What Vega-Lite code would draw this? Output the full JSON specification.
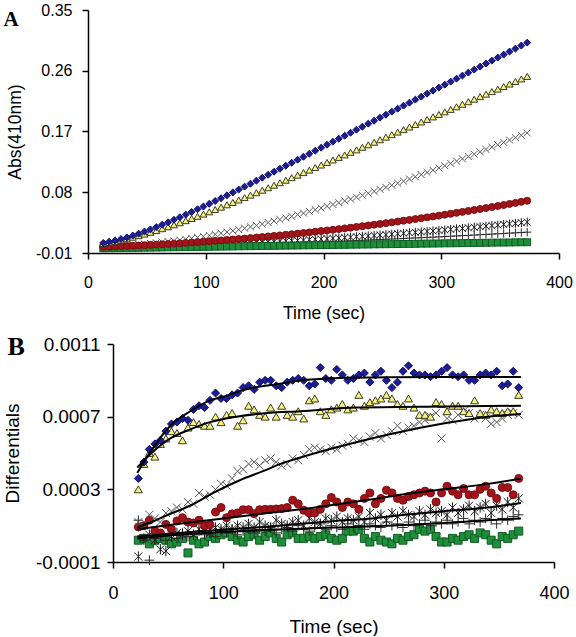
{
"$schema":"https://vega.github.io/schema/vega-lite/v6.json",
"padding":{"left":3,"top":2,"right":0,"bottom":0},
"background":"white",
"config":{
 "view":{"stroke":null},
 "font":"Liberation Sans",
 "axis":{"domainColor":"black","domainWidth":1.5,"tickColor":"black","tickWidth":1.5,"tickSize":6,"labelColor":"black","titleColor":"black","titleFontWeight":"normal","grid":false,"labelFont":"Liberation Sans","titleFont":"Liberation Sans","labelFlush":false,"labelOverlap":false},
 "title":{"font":"Liberation Serif","fontWeight":"bold","anchor":"start","frame":"bounds","offset":0,"baseline":"alphabetic","color":"black"}
},
"datasets":{
"a":[
{"t":13,"s":"x","v":-0.0005},{"t":18,"s":"x","v":-0.0001},{"t":23,"s":"x","v":0.0003},{"t":28,"s":"x","v":0.0008},{"t":33,"s":"x","v":0.0014},{"t":38,"s":"x","v":0.002},{"t":43,"s":"x","v":0.0027},{"t":48,"s":"x","v":0.0034},{"t":53,"s":"x","v":0.0042},{"t":58,"s":"x","v":0.0051},{"t":63,"s":"x","v":0.006},{"t":68,"s":"x","v":0.007},{"t":73,"s":"x","v":0.0081},{"t":78,"s":"x","v":0.0092},{"t":83,"s":"x","v":0.0104},{"t":88,"s":"x","v":0.0117},{"t":93,"s":"x","v":0.0131},{"t":98,"s":"x","v":0.0145},{"t":103,"s":"x","v":0.016},{"t":108,"s":"x","v":0.0176},{"t":113,"s":"x","v":0.0193},{"t":118,"s":"x","v":0.021},{"t":123,"s":"x","v":0.0228},{"t":128,"s":"x","v":0.0247},{"t":133,"s":"x","v":0.0267},{"t":138,"s":"x","v":0.0287},{"t":143,"s":"x","v":0.0308},{"t":148,"s":"x","v":0.0329},{"t":153,"s":"x","v":0.0351},{"t":158,"s":"x","v":0.0373},{"t":163,"s":"x","v":0.0396},{"t":168,"s":"x","v":0.0419},{"t":173,"s":"x","v":0.0443},{"t":178,"s":"x","v":0.0467},{"t":183,"s":"x","v":0.0491},{"t":188,"s":"x","v":0.0516},{"t":193,"s":"x","v":0.0541},{"t":198,"s":"x","v":0.0566},{"t":203,"s":"x","v":0.0592},{"t":208,"s":"x","v":0.0618},{"t":213,"s":"x","v":0.0645},{"t":218,"s":"x","v":0.0672},{"t":223,"s":"x","v":0.0699},{"t":228,"s":"x","v":0.0727},{"t":233,"s":"x","v":0.0755},{"t":238,"s":"x","v":0.0784},{"t":243,"s":"x","v":0.0813},{"t":248,"s":"x","v":0.0843},{"t":253,"s":"x","v":0.0873},{"t":258,"s":"x","v":0.0903},{"t":263,"s":"x","v":0.0934},{"t":268,"s":"x","v":0.0965},{"t":273,"s":"x","v":0.0997},{"t":278,"s":"x","v":0.1029},{"t":283,"s":"x","v":0.1061},{"t":288,"s":"x","v":0.1094},{"t":293,"s":"x","v":0.1127},{"t":298,"s":"x","v":0.116},{"t":303,"s":"x","v":0.1193},{"t":308,"s":"x","v":0.1227},{"t":313,"s":"x","v":0.1261},{"t":318,"s":"x","v":0.1295},{"t":323,"s":"x","v":0.1329},{"t":328,"s":"x","v":0.1364},{"t":333,"s":"x","v":0.1399},{"t":338,"s":"x","v":0.1434},{"t":343,"s":"x","v":0.1469},{"t":348,"s":"x","v":0.1504},{"t":353,"s":"x","v":0.1539},{"t":358,"s":"x","v":0.1574},{"t":363,"s":"x","v":0.1609},{"t":368,"s":"x","v":0.1644},{"t":373,"s":"x","v":0.1679},
{"t":13,"s":"k","v":-0.002},{"t":18,"s":"k","v":-0.0018},{"t":23,"s":"k","v":-0.0017},{"t":28,"s":"k","v":-0.0015},{"t":33,"s":"k","v":-0.0013},{"t":38,"s":"k","v":-0.0011},{"t":43,"s":"k","v":-0.0009},{"t":48,"s":"k","v":-0.0007},{"t":53,"s":"k","v":-0.0005},{"t":58,"s":"k","v":-0.0002},{"t":63,"s":"k","v":0.0},{"t":68,"s":"k","v":0.0003},{"t":73,"s":"k","v":0.0006},{"t":78,"s":"k","v":0.0008},{"t":83,"s":"k","v":0.0011},{"t":88,"s":"k","v":0.0014},{"t":93,"s":"k","v":0.0017},{"t":98,"s":"k","v":0.0021},{"t":103,"s":"k","v":0.0024},{"t":108,"s":"k","v":0.0027},{"t":113,"s":"k","v":0.0031},{"t":118,"s":"k","v":0.0034},{"t":123,"s":"k","v":0.0038},{"t":128,"s":"k","v":0.0042},{"t":133,"s":"k","v":0.0046},{"t":138,"s":"k","v":0.005},{"t":143,"s":"k","v":0.0054},{"t":148,"s":"k","v":0.0058},{"t":153,"s":"k","v":0.0063},{"t":158,"s":"k","v":0.0067},{"t":163,"s":"k","v":0.0072},{"t":168,"s":"k","v":0.0077},{"t":173,"s":"k","v":0.0081},{"t":178,"s":"k","v":0.0086},{"t":183,"s":"k","v":0.0091},{"t":188,"s":"k","v":0.0096},{"t":193,"s":"k","v":0.0102},{"t":198,"s":"k","v":0.0107},{"t":203,"s":"k","v":0.0112},{"t":208,"s":"k","v":0.0118},{"t":213,"s":"k","v":0.0123},{"t":218,"s":"k","v":0.0129},{"t":223,"s":"k","v":0.0135},{"t":228,"s":"k","v":0.0141},{"t":233,"s":"k","v":0.0147},{"t":238,"s":"k","v":0.0153},{"t":243,"s":"k","v":0.0159},{"t":248,"s":"k","v":0.0166},{"t":253,"s":"k","v":0.0172},{"t":258,"s":"k","v":0.0179},{"t":263,"s":"k","v":0.0185},{"t":268,"s":"k","v":0.0192},{"t":273,"s":"k","v":0.0199},{"t":278,"s":"k","v":0.0206},{"t":283,"s":"k","v":0.0213},{"t":288,"s":"k","v":0.022},{"t":293,"s":"k","v":0.0227},{"t":298,"s":"k","v":0.0235},{"t":303,"s":"k","v":0.0242},{"t":308,"s":"k","v":0.025},{"t":313,"s":"k","v":0.0258},{"t":318,"s":"k","v":0.0265},{"t":323,"s":"k","v":0.0273},{"t":328,"s":"k","v":0.0281},{"t":333,"s":"k","v":0.0289},{"t":338,"s":"k","v":0.0298},{"t":343,"s":"k","v":0.0306},{"t":348,"s":"k","v":0.0314},{"t":353,"s":"k","v":0.0323},{"t":358,"s":"k","v":0.0331},{"t":363,"s":"k","v":0.034},{"t":368,"s":"k","v":0.0349},{"t":373,"s":"k","v":0.0358},
{"t":13,"s":"p","v":-0.0025},{"t":18,"s":"p","v":-0.0023},{"t":23,"s":"p","v":-0.0022},{"t":28,"s":"p","v":-0.002},{"t":33,"s":"p","v":-0.0019},{"t":38,"s":"p","v":-0.0017},{"t":43,"s":"p","v":-0.0015},{"t":48,"s":"p","v":-0.0013},{"t":53,"s":"p","v":-0.0011},{"t":58,"s":"p","v":-0.001},{"t":63,"s":"p","v":-0.0008},{"t":68,"s":"p","v":-0.0006},{"t":73,"s":"p","v":-0.0004},{"t":78,"s":"p","v":-0.0001},{"t":83,"s":"p","v":0.0001},{"t":88,"s":"p","v":0.0003},{"t":93,"s":"p","v":0.0005},{"t":98,"s":"p","v":0.0008},{"t":103,"s":"p","v":0.001},{"t":108,"s":"p","v":0.0012},{"t":113,"s":"p","v":0.0015},{"t":118,"s":"p","v":0.0017},{"t":123,"s":"p","v":0.002},{"t":128,"s":"p","v":0.0022},{"t":133,"s":"p","v":0.0025},{"t":138,"s":"p","v":0.0028},{"t":143,"s":"p","v":0.003},{"t":148,"s":"p","v":0.0033},{"t":153,"s":"p","v":0.0036},{"t":158,"s":"p","v":0.0039},{"t":163,"s":"p","v":0.0042},{"t":168,"s":"p","v":0.0045},{"t":173,"s":"p","v":0.0048},{"t":178,"s":"p","v":0.0051},{"t":183,"s":"p","v":0.0054},{"t":188,"s":"p","v":0.0057},{"t":193,"s":"p","v":0.0061},{"t":198,"s":"p","v":0.0064},{"t":203,"s":"p","v":0.0067},{"t":208,"s":"p","v":0.007},{"t":213,"s":"p","v":0.0074},{"t":218,"s":"p","v":0.0077},{"t":223,"s":"p","v":0.0081},{"t":228,"s":"p","v":0.0084},{"t":233,"s":"p","v":0.0088},{"t":238,"s":"p","v":0.0092},{"t":243,"s":"p","v":0.0095},{"t":248,"s":"p","v":0.0099},{"t":253,"s":"p","v":0.0103},{"t":258,"s":"p","v":0.0107},{"t":263,"s":"p","v":0.0111},{"t":268,"s":"p","v":0.0115},{"t":273,"s":"p","v":0.0119},{"t":278,"s":"p","v":0.0123},{"t":283,"s":"p","v":0.0127},{"t":288,"s":"p","v":0.0131},{"t":293,"s":"p","v":0.0135},{"t":298,"s":"p","v":0.0139},{"t":303,"s":"p","v":0.0144},{"t":308,"s":"p","v":0.0148},{"t":313,"s":"p","v":0.0153},{"t":318,"s":"p","v":0.0157},{"t":323,"s":"p","v":0.0161},{"t":328,"s":"p","v":0.0166},{"t":333,"s":"p","v":0.0171},{"t":338,"s":"p","v":0.0175},{"t":343,"s":"p","v":0.018},{"t":348,"s":"p","v":0.0185},{"t":353,"s":"p","v":0.0189},{"t":358,"s":"p","v":0.0194},{"t":363,"s":"p","v":0.0199},{"t":368,"s":"p","v":0.0204},{"t":373,"s":"p","v":0.0209},
{"t":13,"s":"g","v":-0.003},{"t":18,"s":"g","v":-0.0029},{"t":23,"s":"g","v":-0.0028},{"t":28,"s":"g","v":-0.0026},{"t":33,"s":"g","v":-0.0025},{"t":38,"s":"g","v":-0.0024},{"t":43,"s":"g","v":-0.0023},{"t":48,"s":"g","v":-0.0021},{"t":53,"s":"g","v":-0.002},{"t":58,"s":"g","v":-0.0019},{"t":63,"s":"g","v":-0.0018},{"t":68,"s":"g","v":-0.0016},{"t":73,"s":"g","v":-0.0015},{"t":78,"s":"g","v":-0.0014},{"t":83,"s":"g","v":-0.0013},{"t":88,"s":"g","v":-0.0011},{"t":93,"s":"g","v":-0.001},{"t":98,"s":"g","v":-0.0009},{"t":103,"s":"g","v":-0.0008},{"t":108,"s":"g","v":-0.0006},{"t":113,"s":"g","v":-0.0005},{"t":118,"s":"g","v":-0.0004},{"t":123,"s":"g","v":-0.0003},{"t":128,"s":"g","v":-0.0001},{"t":133,"s":"g","v":0.0},{"t":138,"s":"g","v":0.0001},{"t":143,"s":"g","v":0.0003},{"t":148,"s":"g","v":0.0004},{"t":153,"s":"g","v":0.0005},{"t":158,"s":"g","v":0.0006},{"t":163,"s":"g","v":0.0008},{"t":168,"s":"g","v":0.0009},{"t":173,"s":"g","v":0.001},{"t":178,"s":"g","v":0.0011},{"t":183,"s":"g","v":0.0013},{"t":188,"s":"g","v":0.0014},{"t":193,"s":"g","v":0.0015},{"t":198,"s":"g","v":0.0016},{"t":203,"s":"g","v":0.0018},{"t":208,"s":"g","v":0.0019},{"t":213,"s":"g","v":0.002},{"t":218,"s":"g","v":0.0021},{"t":223,"s":"g","v":0.0023},{"t":228,"s":"g","v":0.0024},{"t":233,"s":"g","v":0.0025},{"t":238,"s":"g","v":0.0026},{"t":243,"s":"g","v":0.0028},{"t":248,"s":"g","v":0.0029},{"t":253,"s":"g","v":0.003},{"t":258,"s":"g","v":0.0031},{"t":263,"s":"g","v":0.0033},{"t":268,"s":"g","v":0.0034},{"t":273,"s":"g","v":0.0035},{"t":278,"s":"g","v":0.0036},{"t":283,"s":"g","v":0.0038},{"t":288,"s":"g","v":0.0039},{"t":293,"s":"g","v":0.004},{"t":298,"s":"g","v":0.0041},{"t":303,"s":"g","v":0.0043},{"t":308,"s":"g","v":0.0044},{"t":313,"s":"g","v":0.0045},{"t":318,"s":"g","v":0.0046},{"t":323,"s":"g","v":0.0048},{"t":328,"s":"g","v":0.0049},{"t":333,"s":"g","v":0.005},{"t":338,"s":"g","v":0.0051},{"t":343,"s":"g","v":0.0053},{"t":348,"s":"g","v":0.0054},{"t":353,"s":"g","v":0.0055},{"t":358,"s":"g","v":0.0056},{"t":363,"s":"g","v":0.0058},{"t":368,"s":"g","v":0.0059},{"t":373,"s":"g","v":0.006},
{"t":13,"s":"r","v":-0.001},{"t":18,"s":"r","v":-0.0007},{"t":23,"s":"r","v":-0.0004},{"t":28,"s":"r","v":0.0},{"t":33,"s":"r","v":0.0003},{"t":38,"s":"r","v":0.0007},{"t":43,"s":"r","v":0.0011},{"t":48,"s":"r","v":0.0015},{"t":53,"s":"r","v":0.002},{"t":58,"s":"r","v":0.0024},{"t":63,"s":"r","v":0.0029},{"t":68,"s":"r","v":0.0034},{"t":73,"s":"r","v":0.0039},{"t":78,"s":"r","v":0.0044},{"t":83,"s":"r","v":0.005},{"t":88,"s":"r","v":0.0055},{"t":93,"s":"r","v":0.0061},{"t":98,"s":"r","v":0.0067},{"t":103,"s":"r","v":0.0073},{"t":108,"s":"r","v":0.008},{"t":113,"s":"r","v":0.0086},{"t":118,"s":"r","v":0.0093},{"t":123,"s":"r","v":0.01},{"t":128,"s":"r","v":0.0107},{"t":133,"s":"r","v":0.0114},{"t":138,"s":"r","v":0.0121},{"t":143,"s":"r","v":0.0129},{"t":148,"s":"r","v":0.0137},{"t":153,"s":"r","v":0.0145},{"t":158,"s":"r","v":0.0153},{"t":163,"s":"r","v":0.0161},{"t":168,"s":"r","v":0.017},{"t":173,"s":"r","v":0.0178},{"t":178,"s":"r","v":0.0187},{"t":183,"s":"r","v":0.0196},{"t":188,"s":"r","v":0.0206},{"t":193,"s":"r","v":0.0215},{"t":198,"s":"r","v":0.0225},{"t":203,"s":"r","v":0.0234},{"t":208,"s":"r","v":0.0244},{"t":213,"s":"r","v":0.0254},{"t":218,"s":"r","v":0.0265},{"t":223,"s":"r","v":0.0275},{"t":228,"s":"r","v":0.0286},{"t":233,"s":"r","v":0.0297},{"t":238,"s":"r","v":0.0308},{"t":243,"s":"r","v":0.0319},{"t":248,"s":"r","v":0.033},{"t":253,"s":"r","v":0.0342},{"t":258,"s":"r","v":0.0354},{"t":263,"s":"r","v":0.0366},{"t":268,"s":"r","v":0.0378},{"t":273,"s":"r","v":0.039},{"t":278,"s":"r","v":0.0403},{"t":283,"s":"r","v":0.0415},{"t":288,"s":"r","v":0.0428},{"t":293,"s":"r","v":0.0441},{"t":298,"s":"r","v":0.0454},{"t":303,"s":"r","v":0.0468},{"t":308,"s":"r","v":0.0481},{"t":313,"s":"r","v":0.0495},{"t":318,"s":"r","v":0.0509},{"t":323,"s":"r","v":0.0523},{"t":328,"s":"r","v":0.0537},{"t":333,"s":"r","v":0.0552},{"t":338,"s":"r","v":0.0566},{"t":343,"s":"r","v":0.0581},{"t":348,"s":"r","v":0.0596},{"t":353,"s":"r","v":0.0611},{"t":358,"s":"r","v":0.0627},{"t":363,"s":"r","v":0.0642},{"t":368,"s":"r","v":0.0658},{"t":373,"s":"r","v":0.0674},
{"t":13,"s":"y","v":0.004},{"t":18,"s":"y","v":0.0056},{"t":23,"s":"y","v":0.0073},{"t":28,"s":"y","v":0.0092},{"t":33,"s":"y","v":0.0112},{"t":38,"s":"y","v":0.0134},{"t":43,"s":"y","v":0.0156},{"t":48,"s":"y","v":0.018},{"t":53,"s":"y","v":0.0206},{"t":58,"s":"y","v":0.0232},{"t":63,"s":"y","v":0.026},{"t":68,"s":"y","v":0.0288},{"t":73,"s":"y","v":0.0318},{"t":78,"s":"y","v":0.0348},{"t":83,"s":"y","v":0.0379},{"t":88,"s":"y","v":0.0411},{"t":93,"s":"y","v":0.0443},{"t":98,"s":"y","v":0.0476},{"t":103,"s":"y","v":0.051},{"t":108,"s":"y","v":0.0544},{"t":113,"s":"y","v":0.0579},{"t":118,"s":"y","v":0.0614},{"t":123,"s":"y","v":0.0649},{"t":128,"s":"y","v":0.0685},{"t":133,"s":"y","v":0.0721},{"t":138,"s":"y","v":0.0757},{"t":143,"s":"y","v":0.0793},{"t":148,"s":"y","v":0.083},{"t":153,"s":"y","v":0.0867},{"t":158,"s":"y","v":0.0904},{"t":163,"s":"y","v":0.0941},{"t":168,"s":"y","v":0.0978},{"t":173,"s":"y","v":0.1016},{"t":178,"s":"y","v":0.1053},{"t":183,"s":"y","v":0.1091},{"t":188,"s":"y","v":0.1128},{"t":193,"s":"y","v":0.1166},{"t":198,"s":"y","v":0.1203},{"t":203,"s":"y","v":0.1241},{"t":208,"s":"y","v":0.1278},{"t":213,"s":"y","v":0.1316},{"t":218,"s":"y","v":0.1353},{"t":223,"s":"y","v":0.1391},{"t":228,"s":"y","v":0.1428},{"t":233,"s":"y","v":0.1466},{"t":238,"s":"y","v":0.1503},{"t":243,"s":"y","v":0.1541},{"t":248,"s":"y","v":0.1578},{"t":253,"s":"y","v":0.1616},{"t":258,"s":"y","v":0.1653},{"t":263,"s":"y","v":0.1691},{"t":268,"s":"y","v":0.1728},{"t":273,"s":"y","v":0.1766},{"t":278,"s":"y","v":0.1803},{"t":283,"s":"y","v":0.1841},{"t":288,"s":"y","v":0.1878},{"t":293,"s":"y","v":0.1916},{"t":298,"s":"y","v":0.1953},{"t":303,"s":"y","v":0.1991},{"t":308,"s":"y","v":0.2028},{"t":313,"s":"y","v":0.2066},{"t":318,"s":"y","v":0.2103},{"t":323,"s":"y","v":0.2141},{"t":328,"s":"y","v":0.2178},{"t":333,"s":"y","v":0.2216},{"t":338,"s":"y","v":0.2253},{"t":343,"s":"y","v":0.2291},{"t":348,"s":"y","v":0.2328},{"t":353,"s":"y","v":0.2366},{"t":358,"s":"y","v":0.2403},{"t":363,"s":"y","v":0.2441},{"t":368,"s":"y","v":0.2478},{"t":373,"s":"y","v":0.2516},
{"t":13,"s":"d","v":0.005},{"t":18,"s":"d","v":0.0066},{"t":23,"s":"d","v":0.0085},{"t":28,"s":"d","v":0.0107},{"t":33,"s":"d","v":0.0131},{"t":38,"s":"d","v":0.0158},{"t":43,"s":"d","v":0.0187},{"t":48,"s":"d","v":0.0218},{"t":53,"s":"d","v":0.025},{"t":58,"s":"d","v":0.0284},{"t":63,"s":"d","v":0.0319},{"t":68,"s":"d","v":0.0355},{"t":73,"s":"d","v":0.0392},{"t":78,"s":"d","v":0.043},{"t":83,"s":"d","v":0.0469},{"t":88,"s":"d","v":0.0508},{"t":93,"s":"d","v":0.0548},{"t":98,"s":"d","v":0.0588},{"t":103,"s":"d","v":0.0629},{"t":108,"s":"d","v":0.067},{"t":113,"s":"d","v":0.0712},{"t":118,"s":"d","v":0.0754},{"t":123,"s":"d","v":0.0797},{"t":128,"s":"d","v":0.084},{"t":133,"s":"d","v":0.0883},{"t":138,"s":"d","v":0.0927},{"t":143,"s":"d","v":0.0971},{"t":148,"s":"d","v":0.1015},{"t":153,"s":"d","v":0.1059},{"t":158,"s":"d","v":0.1104},{"t":163,"s":"d","v":0.1148},{"t":168,"s":"d","v":0.1193},{"t":173,"s":"d","v":0.1237},{"t":178,"s":"d","v":0.1282},{"t":183,"s":"d","v":0.1326},{"t":188,"s":"d","v":0.1371},{"t":193,"s":"d","v":0.1415},{"t":198,"s":"d","v":0.146},{"t":203,"s":"d","v":0.1504},{"t":208,"s":"d","v":0.1549},{"t":213,"s":"d","v":0.1593},{"t":218,"s":"d","v":0.1638},{"t":223,"s":"d","v":0.1682},{"t":228,"s":"d","v":0.1727},{"t":233,"s":"d","v":0.1771},{"t":238,"s":"d","v":0.1816},{"t":243,"s":"d","v":0.186},{"t":248,"s":"d","v":0.1905},{"t":253,"s":"d","v":0.1949},{"t":258,"s":"d","v":0.1994},{"t":263,"s":"d","v":0.2038},{"t":268,"s":"d","v":0.2083},{"t":273,"s":"d","v":0.2127},{"t":278,"s":"d","v":0.2172},{"t":283,"s":"d","v":0.2216},{"t":288,"s":"d","v":0.2261},{"t":293,"s":"d","v":0.2305},{"t":298,"s":"d","v":0.235},{"t":303,"s":"d","v":0.2394},{"t":308,"s":"d","v":0.2439},{"t":313,"s":"d","v":0.2483},{"t":318,"s":"d","v":0.2528},{"t":323,"s":"d","v":0.2572},{"t":328,"s":"d","v":0.2617},{"t":333,"s":"d","v":0.2661},{"t":338,"s":"d","v":0.2706},{"t":343,"s":"d","v":0.275},{"t":348,"s":"d","v":0.2795},{"t":353,"s":"d","v":0.2839},{"t":358,"s":"d","v":0.2884},{"t":363,"s":"d","v":0.2928},{"t":368,"s":"d","v":0.2973},{"t":373,"s":"d","v":0.3017}
],
"b":[
{"t":23,"s":"g","v":0.00002},{"t":28,"s":"g","v":0.00003},{"t":33,"s":"g","v":0.0},{"t":38,"s":"g","v":0.00002},{"t":43,"s":"g","v":0.00003},{"t":48,"s":"g","v":0.00002},{"t":53,"s":"g","v":0.0},{"t":58,"s":"g","v":0.00001},{"t":63,"s":"g","v":0.00003},{"t":68,"s":"g","v":-0.00005},{"t":73,"s":"g","v":0.00002},{"t":78,"s":"g","v":0.0},{"t":83,"s":"g","v":0.00001},{"t":88,"s":"g","v":0.00004},{"t":93,"s":"g","v":0.00003},{"t":98,"s":"g","v":0.00005},{"t":103,"s":"g","v":0.00006},{"t":108,"s":"g","v":0.00004},{"t":113,"s":"g","v":0.00002},{"t":118,"s":"g","v":0.00001},{"t":123,"s":"g","v":0.00004},{"t":128,"s":"g","v":0.00005},{"t":133,"s":"g","v":0.00002},{"t":138,"s":"g","v":0.00004},{"t":143,"s":"g","v":0.00006},{"t":148,"s":"g","v":0.00003},{"t":153,"s":"g","v":0.00001},{"t":158,"s":"g","v":0.00005},{"t":163,"s":"g","v":0.00006},{"t":168,"s":"g","v":0.00003},{"t":173,"s":"g","v":0.00003},{"t":178,"s":"g","v":0.00004},{"t":183,"s":"g","v":0.00003},{"t":188,"s":"g","v":0.00004},{"t":193,"s":"g","v":0.00005},{"t":198,"s":"g","v":0.00003},{"t":203,"s":"g","v":0.00002},{"t":208,"s":"g","v":0.00003},{"t":213,"s":"g","v":0.00007},{"t":218,"s":"g","v":0.00007},{"t":223,"s":"g","v":0.00008},{"t":228,"s":"g","v":0.00003},{"t":233,"s":"g","v":0.00001},{"t":238,"s":"g","v":0.00004},{"t":243,"s":"g","v":0.00002},{"t":248,"s":"g","v":0.00001},{"t":253,"s":"g","v":0.0},{"t":258,"s":"g","v":0.00003},{"t":263,"s":"g","v":0.00002},{"t":268,"s":"g","v":0.00004},{"t":273,"s":"g","v":0.00005},{"t":278,"s":"g","v":0.00008},{"t":283,"s":"g","v":0.00007},{"t":288,"s":"g","v":0.00008},{"t":293,"s":"g","v":0.00004},{"t":298,"s":"g","v":0.00001},{"t":303,"s":"g","v":0.00001},{"t":308,"s":"g","v":0.00003},{"t":313,"s":"g","v":0.00002},{"t":318,"s":"g","v":0.00004},{"t":323,"s":"g","v":0.00005},{"t":328,"s":"g","v":0.00003},{"t":333,"s":"g","v":0.00006},{"t":338,"s":"g","v":0.00005},{"t":343,"s":"g","v":0.00002},{"t":348,"s":"g","v":0.0},{"t":353,"s":"g","v":0.00004},{"t":358,"s":"g","v":0.00003},{"t":363,"s":"g","v":0.00005},{"t":368,"s":"g","v":0.00007},
{"t":23,"s":"p","v":0.00013},{"t":28,"s":"p","v":0.00002},{"t":33,"s":"p","v":-0.00009},{"t":38,"s":"p","v":0.00003},{"t":43,"s":"p","v":0.00004},{"t":48,"s":"p","v":0.00002},{"t":53,"s":"p","v":0.00005},{"t":58,"s":"p","v":0.00003},{"t":63,"s":"p","v":0.00006},{"t":68,"s":"p","v":0.00004},{"t":73,"s":"p","v":0.00005},{"t":78,"s":"p","v":0.00007},{"t":83,"s":"p","v":0.00005},{"t":88,"s":"p","v":0.00006},{"t":93,"s":"p","v":0.00004},{"t":98,"s":"p","v":0.00007},{"t":103,"s":"p","v":0.00006},{"t":108,"s":"p","v":0.00008},{"t":113,"s":"p","v":0.00005},{"t":118,"s":"p","v":0.00007},{"t":123,"s":"p","v":0.00008},{"t":128,"s":"p","v":0.00006},{"t":133,"s":"p","v":0.00008},{"t":138,"s":"p","v":0.00007},{"t":143,"s":"p","v":0.00009},{"t":148,"s":"p","v":0.00006},{"t":153,"s":"p","v":0.00008},{"t":158,"s":"p","v":0.00009},{"t":163,"s":"p","v":0.00007},{"t":168,"s":"p","v":0.0001},{"t":173,"s":"p","v":0.00008},{"t":178,"s":"p","v":0.00007},{"t":183,"s":"p","v":0.00009},{"t":188,"s":"p","v":0.00011},{"t":193,"s":"p","v":0.00008},{"t":198,"s":"p","v":0.0001},{"t":203,"s":"p","v":0.00009},{"t":208,"s":"p","v":0.00008},{"t":213,"s":"p","v":0.00011},{"t":218,"s":"p","v":0.00009},{"t":223,"s":"p","v":0.0001},{"t":228,"s":"p","v":0.00008},{"t":233,"s":"p","v":0.00011},{"t":238,"s":"p","v":0.0001},{"t":243,"s":"p","v":0.00009},{"t":248,"s":"p","v":0.00012},{"t":253,"s":"p","v":0.0001},{"t":258,"s":"p","v":0.00011},{"t":263,"s":"p","v":0.00009},{"t":268,"s":"p","v":0.00012},{"t":273,"s":"p","v":0.0001},{"t":278,"s":"p","v":0.00011},{"t":283,"s":"p","v":0.00013},{"t":288,"s":"p","v":0.0001},{"t":293,"s":"p","v":0.00012},{"t":298,"s":"p","v":0.00011},{"t":303,"s":"p","v":0.00013},{"t":308,"s":"p","v":0.00011},{"t":313,"s":"p","v":0.00012},{"t":318,"s":"p","v":0.00014},{"t":323,"s":"p","v":0.00011},{"t":328,"s":"p","v":0.00013},{"t":333,"s":"p","v":0.00012},{"t":338,"s":"p","v":0.00014},{"t":343,"s":"p","v":0.00013},{"t":348,"s":"p","v":0.00011},{"t":353,"s":"p","v":0.00014},{"t":358,"s":"p","v":0.00013},{"t":363,"s":"p","v":0.00015},{"t":368,"s":"p","v":0.00016},
{"t":23,"s":"k","v":-0.00007},{"t":28,"s":"k","v":0.00003},{"t":33,"s":"k","v":0.00005},{"t":38,"s":"k","v":0.00002},{"t":43,"s":"k","v":-0.00003},{"t":48,"s":"k","v":-0.00004},{"t":53,"s":"k","v":0.00004},{"t":58,"s":"k","v":0.00006},{"t":63,"s":"k","v":0.00005},{"t":68,"s":"k","v":0.00007},{"t":73,"s":"k","v":0.00005},{"t":78,"s":"k","v":0.00008},{"t":83,"s":"k","v":0.00007},{"t":88,"s":"k","v":0.00006},{"t":93,"s":"k","v":0.00009},{"t":98,"s":"k","v":0.00008},{"t":103,"s":"k","v":0.0001},{"t":108,"s":"k","v":0.00008},{"t":113,"s":"k","v":0.0001},{"t":118,"s":"k","v":0.00009},{"t":123,"s":"k","v":0.00011},{"t":128,"s":"k","v":0.00009},{"t":133,"s":"k","v":0.00012},{"t":138,"s":"k","v":0.0001},{"t":143,"s":"k","v":0.00009},{"t":148,"s":"k","v":0.00013},{"t":153,"s":"k","v":0.00011},{"t":158,"s":"k","v":0.0001},{"t":163,"s":"k","v":0.00012},{"t":168,"s":"k","v":0.00013},{"t":173,"s":"k","v":0.0001},{"t":178,"s":"k","v":0.00014},{"t":183,"s":"k","v":0.00012},{"t":188,"s":"k","v":0.00011},{"t":193,"s":"k","v":0.00014},{"t":198,"s":"k","v":0.00013},{"t":203,"s":"k","v":0.00015},{"t":208,"s":"k","v":0.00012},{"t":213,"s":"k","v":0.00014},{"t":218,"s":"k","v":0.00013},{"t":223,"s":"k","v":0.00015},{"t":228,"s":"k","v":0.00012},{"t":233,"s":"k","v":0.00017},{"t":238,"s":"k","v":0.00014},{"t":243,"s":"k","v":0.00016},{"t":248,"s":"k","v":0.00013},{"t":253,"s":"k","v":0.00017},{"t":258,"s":"k","v":0.00015},{"t":263,"s":"k","v":0.00018},{"t":268,"s":"k","v":0.00016},{"t":273,"s":"k","v":0.00015},{"t":278,"s":"k","v":0.00018},{"t":283,"s":"k","v":0.00016},{"t":288,"s":"k","v":0.00019},{"t":293,"s":"k","v":0.00017},{"t":298,"s":"k","v":0.00018},{"t":303,"s":"k","v":0.00016},{"t":308,"s":"k","v":0.0002},{"t":313,"s":"k","v":0.00017},{"t":318,"s":"k","v":0.00019},{"t":323,"s":"k","v":0.00021},{"t":328,"s":"k","v":0.00018},{"t":333,"s":"k","v":0.0002},{"t":338,"s":"k","v":0.00022},{"t":343,"s":"k","v":0.00017},{"t":348,"s":"k","v":0.00021},{"t":353,"s":"k","v":0.00019},{"t":358,"s":"k","v":0.00023},{"t":363,"s":"k","v":0.0002},{"t":368,"s":"k","v":0.00025},
{"t":23,"s":"r","v":0.000093},{"t":28,"s":"r","v":0.0001},{"t":33,"s":"r","v":0.00013},{"t":38,"s":"r","v":0.00007},{"t":43,"s":"r","v":0.00006},{"t":48,"s":"r","v":0.000107},{"t":53,"s":"r","v":0.00008},{"t":58,"s":"r","v":0.000126},{"t":63,"s":"r","v":0.000144},{"t":68,"s":"r","v":0.00012},{"t":73,"s":"r","v":0.000115},{"t":78,"s":"r","v":0.00013},{"t":83,"s":"r","v":0.0001},{"t":88,"s":"r","v":0.000105},{"t":93,"s":"r","v":0.000175},{"t":98,"s":"r","v":0.0002},{"t":103,"s":"r","v":0.000144},{"t":108,"s":"r","v":0.000165},{"t":113,"s":"r","v":0.00017},{"t":118,"s":"r","v":0.000188},{"t":123,"s":"r","v":0.000188},{"t":128,"s":"r","v":0.000166},{"t":133,"s":"r","v":0.000188},{"t":138,"s":"r","v":0.00019},{"t":143,"s":"r","v":0.00019},{"t":148,"s":"r","v":0.000192},{"t":153,"s":"r","v":0.000194},{"t":158,"s":"r","v":0.0002},{"t":163,"s":"r","v":0.00024},{"t":168,"s":"r","v":0.00022},{"t":173,"s":"r","v":0.000185},{"t":178,"s":"r","v":0.00017},{"t":183,"s":"r","v":0.00017},{"t":188,"s":"r","v":0.00019},{"t":193,"s":"r","v":0.00022},{"t":198,"s":"r","v":0.000255},{"t":203,"s":"r","v":0.00023},{"t":208,"s":"r","v":0.0002},{"t":213,"s":"r","v":0.00023},{"t":218,"s":"r","v":0.00022},{"t":223,"s":"r","v":0.00019},{"t":228,"s":"r","v":0.00025},{"t":233,"s":"r","v":0.00028},{"t":238,"s":"r","v":0.00022},{"t":243,"s":"r","v":0.00025},{"t":248,"s":"r","v":0.000295},{"t":253,"s":"r","v":0.00028},{"t":258,"s":"r","v":0.00025},{"t":263,"s":"r","v":0.00024},{"t":268,"s":"r","v":0.00026},{"t":273,"s":"r","v":0.00027},{"t":278,"s":"r","v":0.00028},{"t":283,"s":"r","v":0.00029},{"t":288,"s":"r","v":0.00028},{"t":293,"s":"r","v":0.00023},{"t":298,"s":"r","v":0.00028},{"t":303,"s":"r","v":0.000317},{"t":308,"s":"r","v":0.00029},{"t":313,"s":"r","v":0.00027},{"t":318,"s":"r","v":0.000304},{"t":323,"s":"r","v":0.00027},{"t":328,"s":"r","v":0.00027},{"t":333,"s":"r","v":0.0003},{"t":338,"s":"r","v":0.000317},{"t":343,"s":"r","v":0.00028},{"t":348,"s":"r","v":0.00025},{"t":353,"s":"r","v":0.00031},{"t":358,"s":"r","v":0.00031},{"t":363,"s":"r","v":0.00027},{"t":368,"s":"r","v":0.00036},
{"t":23,"s":"x","v":0.00012},{"t":28,"s":"x","v":0.0001},{"t":33,"s":"x","v":0.00016},{"t":38,"s":"x","v":0.00014},{"t":43,"s":"x","v":0.00012},{"t":48,"s":"x","v":0.00017},{"t":53,"s":"x","v":0.00018},{"t":58,"s":"x","v":0.0002},{"t":63,"s":"x","v":0.00019},{"t":68,"s":"x","v":0.00023},{"t":73,"s":"x","v":0.00022},{"t":78,"s":"x","v":0.00028},{"t":83,"s":"x","v":0.00026},{"t":88,"s":"x","v":0.00027},{"t":93,"s":"x","v":0.0003},{"t":98,"s":"x","v":0.00033},{"t":103,"s":"x","v":0.00032},{"t":108,"s":"x","v":0.00036},{"t":113,"s":"x","v":0.0004},{"t":118,"s":"x","v":0.00041},{"t":123,"s":"x","v":0.00044},{"t":128,"s":"x","v":0.00045},{"t":133,"s":"x","v":0.00043},{"t":138,"s":"x","v":0.00046},{"t":143,"s":"x","v":0.00047},{"t":148,"s":"x","v":0.00045},{"t":153,"s":"x","v":0.00043},{"t":158,"s":"x","v":0.00044},{"t":163,"s":"x","v":0.00047},{"t":168,"s":"x","v":0.00046},{"t":173,"s":"x","v":0.00049},{"t":178,"s":"x","v":0.00052},{"t":183,"s":"x","v":0.00053},{"t":188,"s":"x","v":0.00052},{"t":193,"s":"x","v":0.00051},{"t":198,"s":"x","v":0.00053},{"t":203,"s":"x","v":0.00052},{"t":208,"s":"x","v":0.00054},{"t":213,"s":"x","v":0.00055},{"t":218,"s":"x","v":0.00058},{"t":223,"s":"x","v":0.00057},{"t":228,"s":"x","v":0.00056},{"t":233,"s":"x","v":0.00059},{"t":238,"s":"x","v":0.00061},{"t":243,"s":"x","v":0.00058},{"t":248,"s":"x","v":0.0006},{"t":253,"s":"x","v":0.00062},{"t":258,"s":"x","v":0.00065},{"t":263,"s":"x","v":0.00062},{"t":268,"s":"x","v":0.00064},{"t":273,"s":"x","v":0.00065},{"t":278,"s":"x","v":0.00067},{"t":283,"s":"x","v":0.00068},{"t":288,"s":"x","v":0.0007},{"t":293,"s":"x","v":0.00072},{"t":298,"s":"x","v":0.00058},{"t":303,"s":"x","v":0.00069},{"t":308,"s":"x","v":0.00068},{"t":313,"s":"x","v":0.00071},{"t":318,"s":"x","v":0.00073},{"t":323,"s":"x","v":0.00072},{"t":328,"s":"x","v":0.00069},{"t":333,"s":"x","v":0.00071},{"t":338,"s":"x","v":0.00069},{"t":343,"s":"x","v":0.00066},{"t":348,"s":"x","v":0.00067},{"t":353,"s":"x","v":0.00069},{"t":358,"s":"x","v":0.00071},{"t":363,"s":"x","v":0.00072},{"t":368,"s":"x","v":0.00071},
{"t":23,"s":"y","v":0.0003},{"t":28,"s":"y","v":0.00044},{"t":33,"s":"y","v":0.0005},{"t":38,"s":"y","v":0.00048},{"t":43,"s":"y","v":0.00055},{"t":48,"s":"y","v":0.00058},{"t":53,"s":"y","v":0.00062},{"t":58,"s":"y","v":0.00061},{"t":63,"s":"y","v":0.00057},{"t":68,"s":"y","v":0.00064},{"t":73,"s":"y","v":0.00067},{"t":78,"s":"y","v":0.00066},{"t":83,"s":"y","v":0.00065},{"t":88,"s":"y","v":0.00065},{"t":93,"s":"y","v":0.0007},{"t":98,"s":"y","v":0.00067},{"t":103,"s":"y","v":0.00071},{"t":108,"s":"y","v":0.00072},{"t":113,"s":"y","v":0.00065},{"t":118,"s":"y","v":0.00068},{"t":123,"s":"y","v":0.00076},{"t":128,"s":"y","v":0.00074},{"t":133,"s":"y","v":0.00071},{"t":138,"s":"y","v":0.0007},{"t":143,"s":"y","v":0.00075},{"t":148,"s":"y","v":0.0007},{"t":153,"s":"y","v":0.00076},{"t":158,"s":"y","v":0.00071},{"t":163,"s":"y","v":0.0007},{"t":168,"s":"y","v":0.00073},{"t":173,"s":"y","v":0.00069},{"t":178,"s":"y","v":0.00079},{"t":183,"s":"y","v":0.0008},{"t":188,"s":"y","v":0.00073},{"t":193,"s":"y","v":0.00071},{"t":198,"s":"y","v":0.00074},{"t":203,"s":"y","v":0.00075},{"t":208,"s":"y","v":0.00077},{"t":213,"s":"y","v":0.00074},{"t":218,"s":"y","v":0.00075},{"t":223,"s":"y","v":0.00082},{"t":228,"s":"y","v":0.00076},{"t":233,"s":"y","v":0.00078},{"t":238,"s":"y","v":0.00079},{"t":243,"s":"y","v":0.0008},{"t":248,"s":"y","v":0.00082},{"t":253,"s":"y","v":0.0008},{"t":258,"s":"y","v":0.00077},{"t":263,"s":"y","v":0.00076},{"t":268,"s":"y","v":0.0008},{"t":273,"s":"y","v":0.00075},{"t":278,"s":"y","v":0.00071},{"t":283,"s":"y","v":0.00071},{"t":288,"s":"y","v":0.0007},{"t":293,"s":"y","v":0.00078},{"t":298,"s":"y","v":0.00077},{"t":303,"s":"y","v":0.00073},{"t":308,"s":"y","v":0.00076},{"t":313,"s":"y","v":0.00076},{"t":318,"s":"y","v":0.00073},{"t":323,"s":"y","v":0.00072},{"t":328,"s":"y","v":0.00079},{"t":333,"s":"y","v":0.00072},{"t":338,"s":"y","v":0.00071},{"t":343,"s":"y","v":0.00074},{"t":348,"s":"y","v":0.00073},{"t":353,"s":"y","v":0.00072},{"t":358,"s":"y","v":0.00073},{"t":363,"s":"y","v":0.00073},{"t":368,"s":"y","v":0.00082},
{"t":23,"s":"d","v":0.00036},{"t":28,"s":"d","v":0.00045},{"t":33,"s":"d","v":0.00052},{"t":38,"s":"d","v":0.00055},{"t":43,"s":"d","v":0.00057},{"t":48,"s":"d","v":0.00062},{"t":53,"s":"d","v":0.00066},{"t":58,"s":"d","v":0.00067},{"t":63,"s":"d","v":0.00069},{"t":68,"s":"d","v":0.00068},{"t":73,"s":"d","v":0.00074},{"t":78,"s":"d","v":0.00076},{"t":83,"s":"d","v":0.00075},{"t":88,"s":"d","v":0.00079},{"t":93,"s":"d","v":0.00083},{"t":98,"s":"d","v":0.0008},{"t":103,"s":"d","v":0.0008},{"t":108,"s":"d","v":0.00082},{"t":113,"s":"d","v":0.00083},{"t":118,"s":"d","v":0.00086},{"t":123,"s":"d","v":0.00087},{"t":128,"s":"d","v":0.00085},{"t":133,"s":"d","v":0.00089},{"t":138,"s":"d","v":0.0009},{"t":143,"s":"d","v":0.0009},{"t":148,"s":"d","v":0.00087},{"t":153,"s":"d","v":0.00086},{"t":158,"s":"d","v":0.00089},{"t":163,"s":"d","v":0.0009},{"t":168,"s":"d","v":0.00091},{"t":173,"s":"d","v":0.0009},{"t":178,"s":"d","v":0.00087},{"t":183,"s":"d","v":0.00088},{"t":188,"s":"d","v":0.00097},{"t":193,"s":"d","v":0.00091},{"t":198,"s":"d","v":0.0009},{"t":203,"s":"d","v":0.00096},{"t":208,"s":"d","v":0.00093},{"t":213,"s":"d","v":0.0009},{"t":218,"s":"d","v":0.00091},{"t":223,"s":"d","v":0.00093},{"t":228,"s":"d","v":0.00094},{"t":233,"s":"d","v":0.00089},{"t":238,"s":"d","v":0.00093},{"t":243,"s":"d","v":0.00095},{"t":248,"s":"d","v":0.0009},{"t":253,"s":"d","v":0.00086},{"t":258,"s":"d","v":0.00089},{"t":263,"s":"d","v":0.00095},{"t":268,"s":"d","v":0.00098},{"t":273,"s":"d","v":0.00094},{"t":278,"s":"d","v":0.00093},{"t":283,"s":"d","v":0.00093},{"t":288,"s":"d","v":0.00092},{"t":293,"s":"d","v":0.00093},{"t":298,"s":"d","v":0.00095},{"t":303,"s":"d","v":0.00097},{"t":308,"s":"d","v":0.00093},{"t":313,"s":"d","v":0.00092},{"t":318,"s":"d","v":0.00093},{"t":323,"s":"d","v":0.0009},{"t":328,"s":"d","v":0.0009},{"t":333,"s":"d","v":0.00093},{"t":338,"s":"d","v":0.00094},{"t":343,"s":"d","v":0.00093},{"t":348,"s":"d","v":0.00095},{"t":353,"s":"d","v":0.00087},{"t":358,"s":"d","v":0.00088},{"t":363,"s":"d","v":0.00095},{"t":368,"s":"d","v":0.00086}
],
"bf":[
{"t":22,"s":"d","v":0.00039},{"t":30,"s":"d","v":0.00047},{"t":40,"s":"d","v":0.00056},{"t":52,"s":"d","v":0.00065},{"t":70,"s":"d","v":0.00073},{"t":88,"s":"d","v":0.00079},{"t":100,"s":"d","v":0.00081},{"t":120,"s":"d","v":0.00085},{"t":150,"s":"d","v":0.00088},{"t":170,"s":"d","v":0.0009},{"t":200,"s":"d","v":0.000912},{"t":250,"s":"d","v":0.000917},{"t":300,"s":"d","v":0.000918},{"t":370,"s":"d","v":0.000918},
{"t":22,"s":"y","v":0.00042},{"t":35,"s":"y","v":0.0005},{"t":52,"s":"y","v":0.00058},{"t":70,"s":"y","v":0.00063},{"t":88,"s":"y","v":0.00067},{"t":112,"s":"y","v":0.0007},{"t":140,"s":"y","v":0.00072},{"t":170,"s":"y","v":0.00073},{"t":220,"s":"y","v":0.00075},{"t":300,"s":"y","v":0.000756},{"t":370,"s":"y","v":0.00076},
{"t":22,"s":"x","v":0.00009},{"t":35,"s":"x","v":0.00012},{"t":50,"s":"x","v":0.00016},{"t":70,"s":"x","v":0.00021},{"t":91,"s":"x","v":0.00028},{"t":115,"s":"x","v":0.00035},{"t":136,"s":"x","v":0.0004},{"t":152,"s":"x","v":0.00044},{"t":170,"s":"x","v":0.000475},{"t":202,"s":"x","v":0.00053},{"t":252,"s":"x","v":0.000605},{"t":302,"s":"x","v":0.000665},{"t":340,"s":"x","v":0.0007},{"t":370,"s":"x","v":0.000715},
{"t":22,"s":"r","v":0.00008},{"t":60,"s":"r","v":0.00011},{"t":100,"s":"r","v":0.00014},{"t":136,"s":"r","v":0.000166},{"t":170,"s":"r","v":0.00019},{"t":200,"s":"r","v":0.000215},{"t":240,"s":"r","v":0.00025},{"t":270,"s":"r","v":0.000278},{"t":300,"s":"r","v":0.0003},{"t":340,"s":"r","v":0.00033},{"t":370,"s":"r","v":0.000358},
{"t":22,"s":"k","v":0.00004},{"t":60,"s":"k","v":0.00006},{"t":100,"s":"k","v":0.000078},{"t":136,"s":"k","v":0.000093},{"t":170,"s":"k","v":0.00011},{"t":200,"s":"k","v":0.000125},{"t":235,"s":"k","v":0.00014},{"t":265,"s":"k","v":0.00016},{"t":300,"s":"k","v":0.00018},{"t":340,"s":"k","v":0.0002},{"t":370,"s":"k","v":0.000225},
{"t":22,"s":"p","v":0.00003},{"t":60,"s":"p","v":0.00005},{"t":100,"s":"p","v":0.000065},{"t":134,"s":"p","v":0.000075},{"t":200,"s":"p","v":0.00009},{"t":265,"s":"p","v":0.000103},{"t":300,"s":"p","v":0.000115},{"t":340,"s":"p","v":0.00013},{"t":370,"s":"p","v":0.00014}
]
},
"vconcat":[
{
 "width":471,"height":243,
 "title":{"text":"A","fontSize":21,"dx":-3,"dy":32},
 "data":{"name":"a"},
 "mark":{"type":"point","filled":true,"size":48,"strokeWidth":1,"opacity":1},
 "encoding":{
  "x":{"field":"t","type":"quantitative","scale":{"domain":[0,400],"nice":false},"axis":{"values":[0,100,200,300,400],"title":"Time (sec)","labelFontSize":16,"titleFontSize":17.5,"labelPadding":15,"titlePadding":14}},
  "y":{"field":"v","type":"quantitative","scale":{"domain":[-0.01,0.35],"nice":false,"zero":false},"axis":{"values":[-0.01,0.08,0.17,0.26,0.35],"format":".2f","labelExpr":"replace(datum.label,'\u2212','-')","title":"Abs(410nm)","labelFontSize":16,"titleFontSize":17.5,"labelPadding":10,"titlePadding":11}},
  "shape":{"field":"s","type":"nominal","legend":null,"scale":{"domain":["d","y","x","r","k","p","g"],"range":["diamond","triangle-up","M-1,-1L1,1M-1,1L1,-1","circle","M-1,-1L1,1M-1,1L1,-1M0,-1.3L0,1.3","M-1.2,0L1.2,0M0,-1.2L0,1.2","square"]}},
  "fill":{"field":"s","type":"nominal","legend":null,"scale":{"domain":["d","y","x","r","k","p","g"],"range":["#1c1c94","#f6f27a","transparent","#a11419","transparent","transparent","#1f8e3b"]}},
  "stroke":{"field":"s","type":"nominal","legend":null,"scale":{"domain":["d","y","x","r","k","p","g"],"range":["#0e0e6a","#3a3a2a","#5a5a5a","#7c0d10","#1a1a1a","#2a2a2a","#0f5a22"]}}
 }
},
{
 "width":466,"height":218,
 "title":{"text":"B","fontSize":26,"dx":4,"dy":29},
 "layer":[
  {
   "data":{"name":"b"},
   "mark":{"type":"point","filled":true,"size":64,"strokeWidth":1,"opacity":1},
   "encoding":{
    "x":{"field":"t","type":"quantitative","scale":{"domain":[0,400],"range":[25,466],"nice":false},"axis":{"values":[0,100,200,300,400],"title":"Time (sec)","labelFontSize":18,"titleFontSize":19,"labelPadding":16,"titlePadding":15}},
    "y":{"field":"v","type":"quantitative","scale":{"domain":[-0.0001,0.0011],"nice":false,"zero":false},"axis":{"values":[-0.0001,0.0003,0.0007,0.0011],"format":".4f","labelExpr":"replace(datum.label,'\u2212','-')","title":"Differentials","labelFontSize":19,"titleFontSize":19,"labelPadding":7,"titlePadding":13,"offset":-25}},
    "shape":{"field":"s","type":"nominal","legend":null},
    "fill":{"field":"s","type":"nominal","legend":null},
    "stroke":{"field":"s","type":"nominal","legend":null}
   }
  },
  {
   "data":{"name":"bf"},
   "mark":{"type":"line","color":"black","strokeWidth":2,"interpolate":"monotone"},
   "encoding":{
    "x":{"field":"t","type":"quantitative"},
    "y":{"field":"v","type":"quantitative"},
    "detail":{"field":"s","type":"nominal"}
   }
  }
 ]
}
],
"spacing":12
}
